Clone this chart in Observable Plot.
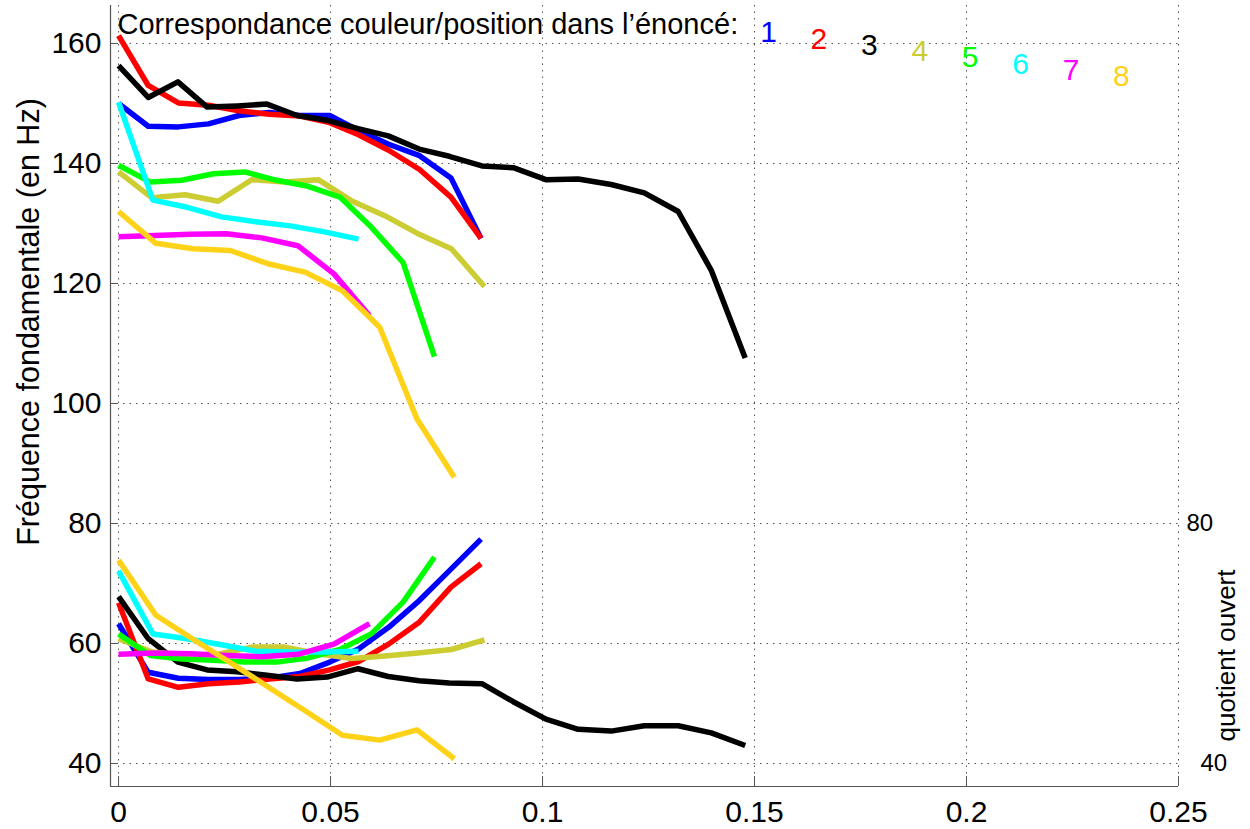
<!DOCTYPE html>
<html><head><meta charset="utf-8">
<script src="https://cdn.jsdelivr.net/npm/d3@7"></script>
<script src="https://cdn.jsdelivr.net/npm/@observablehq/plot@0.6"></script>
<style>html,body{margin:0;padding:0;background:#fff;} svg{display:block;}</style>
</head><body><div id="chart"></div>
<script>
// ---- Data ----
const seriesNames  = ["1","2","3","4","5","6","7","8"];
const seriesColors = ["#0000ff","#ff0000","#000000","#cccc33","#00ff00","#00ffff","#ff00ff","#ffd21a"];

const x1 = [0, 0.0070, 0.0141, 0.0212, 0.0284, 0.0355, 0.0428, 0.0498, 0.0566, 0.0637, 0.0710, 0.0784, 0.0855];
const f0_1 = [150.0, 146.2, 146.1, 146.6, 148.0, 148.5, 148.0, 148.0, 145.5, 143.2, 141.3, 137.6, 127.5];
const oq_1 = [63.3, 55.2, 54.2, 54.0, 54.0, 54.2, 55.0, 56.9, 59.1, 62.7, 67.2, 72.4, 77.4];

const x2 = [0, 0.0070, 0.0141, 0.0212, 0.0284, 0.0355, 0.0428, 0.0498, 0.0566, 0.0637, 0.0710, 0.0784, 0.0855];
const f0_2 = [161.3, 153.0, 150.1, 149.7, 148.8, 148.2, 147.9, 146.8, 144.8, 142.2, 139.0, 134.4, 127.5];
const oq_2 = [66.8, 54.1, 52.7, 53.3, 53.6, 54.1, 54.5, 55.6, 57.0, 59.9, 63.6, 69.4, 73.3];

const x3 = [0, 0.0070, 0.0140, 0.0209, 0.0280, 0.0350, 0.0421, 0.0492, 0.0565, 0.0636, 0.0709, 0.0780, 0.0857, 0.0931, 0.1008, 0.1084, 0.1162, 0.1240, 0.1320, 0.1398, 0.1478];
const f0_3 = [156.3, 151.0, 153.6, 149.4, 149.6, 149.9, 148.0, 147.2, 145.8, 144.6, 142.4, 141.2, 139.6, 139.3, 137.3, 137.4, 136.5, 135.1, 132.0, 122.2, 107.6];
const oq_3 = [67.8, 60.8, 56.9, 55.6, 55.3, 54.7, 54.1, 54.4, 55.8, 54.5, 53.8, 53.4, 53.3, 50.3, 47.4, 45.7, 45.4, 46.3, 46.3, 45.1, 43.0];

const x4 = [0, 0.0078, 0.0157, 0.0235, 0.0314, 0.0392, 0.0471, 0.0549, 0.0628, 0.0706, 0.0785, 0.0863];
const f0_4 = [138.6, 134.3, 134.8, 133.7, 137.3, 136.9, 137.3, 133.8, 131.3, 128.3, 125.8, 119.5];
const oq_4 = [60.8, 58.6, 58.1, 58.2, 59.4, 59.4, 58.3, 57.5, 57.9, 58.4, 59.0, 60.6];

const x5 = [0, 0.0075, 0.0149, 0.0224, 0.0298, 0.0373, 0.0447, 0.0522, 0.0596, 0.0671, 0.0745];
const f0_5 = [139.7, 136.9, 137.2, 138.3, 138.6, 137.2, 136.2, 134.4, 129.4, 123.5, 107.8];
const oq_5 = [61.6, 58.0, 57.4, 57.2, 56.9, 56.9, 57.6, 59.0, 61.6, 66.9, 74.4];

const x6 = [0, 0.0081, 0.0162, 0.0243, 0.0324, 0.0405, 0.0486, 0.0566];
const f0_6 = [150.2, 133.9, 132.7, 131.1, 130.3, 129.6, 128.6, 127.4];
const oq_6 = [72.1, 61.6, 60.8, 59.8, 58.7, 58.6, 58.6, 58.7];

const x7 = [0, 0.0085, 0.0169, 0.0254, 0.0338, 0.0423, 0.0508, 0.0592];
const f0_7 = [127.8, 128.0, 128.2, 128.3, 127.6, 126.3, 121.6, 114.6];
const oq_7 = [58.2, 58.4, 58.3, 58.0, 57.8, 58.2, 59.9, 63.3];

const x8 = [0, 0.0088, 0.0176, 0.0264, 0.0352, 0.0440, 0.0528, 0.0616, 0.0704, 0.0792];
const f0_8 = [132.0, 126.7, 125.8, 125.5, 123.3, 121.9, 118.8, 112.7, 97.4, 87.7];
const oq_8 = [73.9, 64.7, 60.7, 56.8, 52.8, 48.8, 44.7, 43.9, 45.6, 40.8];

const xTicks = [0, 0.05, 0.1, 0.15, 0.2, 0.25];
const xTickLabels = ["0", "0.05", "0.1", "0.15", "0.2", "0.25"];
const yTicks = [40, 60, 80, 100, 120, 140, 160];
const rightTicks = [80, 40];
const titleText = "Correspondance couleur/position dans l\u2019énoncé:";
const yLabelText = "Fréquence fondamentale (en Hz)";
const rightLabelText = "quotient ouvert";

// ---- Build table ----
const xs = [x1, x2, x3, x4, x5, x6, x7, x8];
const f0s = [f0_1, f0_2, f0_3, f0_4, f0_5, f0_6, f0_7, f0_8];
const oqs = [oq_1, oq_2, oq_3, oq_4, oq_5, oq_6, oq_7, oq_8];
const rows = [];
seriesNames.forEach((s, k) => {
  xs[k].forEach((x, i) => rows.push({series: s, x, f0: f0s[k][i], oq: oqs[k][i]}));
});

const W = 1250, H = 829;
const xDomain = [-0.0019, 0.25];
const yDomain = [36.17, 166.33];
const font = "'Liberation Sans', Arial, Helvetica, sans-serif";
const gridStyle = {stroke: "#555", strokeOpacity: 1, strokeWidth: 1, strokeDasharray: "1.5,5"};

const chart = Plot.plot({
  width: W, height: H,
  marginLeft: 110, marginRight: 72, marginTop: 5, marginBottom: 43,
  style: {fontFamily: font, background: "white", color: "black"},
  x: {domain: xDomain},
  y: {domain: yDomain},
  color: {domain: seriesNames, range: seriesColors},
  marks: [
    Plot.gridX({ticks: xTicks, ...gridStyle}),
    Plot.gridY({ticks: yTicks, ...gridStyle}),
    Plot.ruleX([xDomain[0]], {stroke: "#555", strokeWidth: 1.2}),
    Plot.ruleY([yDomain[0]], {stroke: "#555", strokeWidth: 1.2}),
    Plot.ruleX(xTicks, {stroke: "#555", insetTop: 771}),
    Plot.ruleY(yTicks, {stroke: "#555", insetRight: 1060}),
    Plot.axisX({ticks: xTicks, tickSize: 0, tickPadding: 14, fontSize: 30, label: null,
      tickFormat: (d) => xTickLabels[xTicks.indexOf(d)]}),
    Plot.axisY({ticks: yTicks, tickSize: 0, tickPadding: 9, fontSize: 30, label: null}),
    Plot.line(rows, {x: "x", y: "f0", z: "series", stroke: "series", strokeWidth: 5.5, strokeLinecap: "butt", strokeLinejoin: "round"}),
    Plot.line(rows, {x: "x", y: "oq", z: "series", stroke: "series", strokeWidth: 5.5, strokeLinecap: "butt", strokeLinejoin: "round"}),
    Plot.text([titleText], {frameAnchor: "top-left", text: (d) => d, dx: 7, dy: 8, fontSize: 29, textAnchor: "start", lineAnchor: "top", fill: "black"}),
    Plot.text(seriesNames, {
      x: (d, i) => 0.1533 + i * 0.01189,
      y: (d, i) => 161.8 - i * 1.05,
      text: (d) => d, fill: (d) => d, fontSize: 30, textAnchor: "middle", lineAnchor: "middle"}),
    Plot.text([yLabelText], {frameAnchor: "left", rotate: -90, text: (d) => d, dx: -81, dy: -74, fontSize: 30.5, textAnchor: "middle", lineAnchor: "middle", fill: "black"}),
    Plot.text([rightTicks[0]], {x: xDomain[1], y: (d) => d, text: (d) => String(d), dx: 8, fontSize: 24, textAnchor: "start", lineAnchor: "middle", fill: "black"}),
    Plot.text([rightTicks[1]], {x: xDomain[1], y: (d) => d, text: (d) => String(d), dx: 22, fontSize: 24, textAnchor: "start", lineAnchor: "middle", fill: "black"}),
    Plot.text([rightLabelText], {x: xDomain[1], y: 58, rotate: -90, text: (d) => d, dx: 48, fontSize: 26, textAnchor: "middle", lineAnchor: "middle", fill: "black"})
  ]
});
document.getElementById("chart").appendChild(chart);
</script>
</body></html>
